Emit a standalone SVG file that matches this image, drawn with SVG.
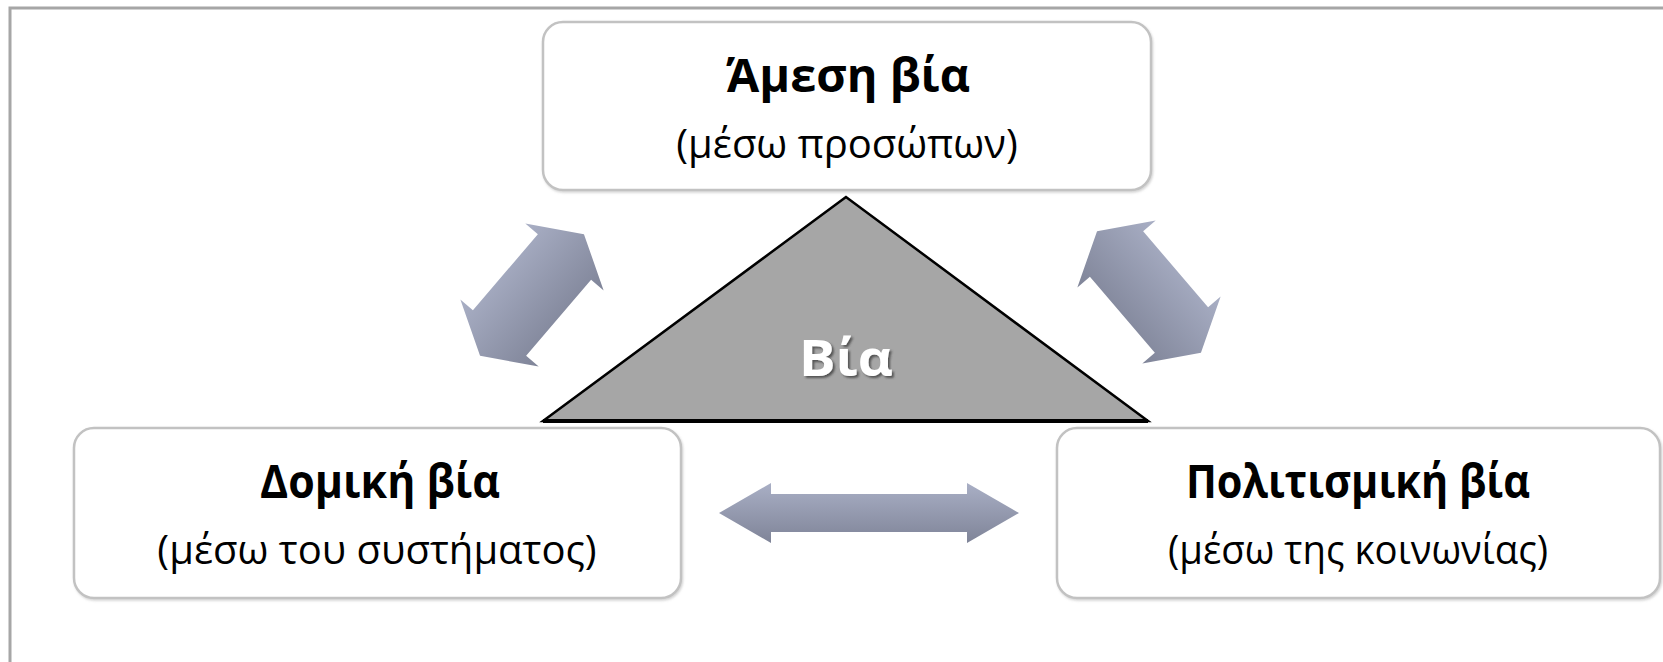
<svg xmlns="http://www.w3.org/2000/svg" width="1663" height="662" viewBox="0 0 1663 662">
  <defs>
    <linearGradient id="arrowGrad" x1="0" y1="0" x2="0" y2="1">
      <stop offset="0" stop-color="#a9afc5"/>
      <stop offset="1" stop-color="#7f8498"/>
    </linearGradient>
    <filter id="txtShadow" x="-20%" y="-20%" width="140%" height="140%">
      <feDropShadow dx="2" dy="2" stdDeviation="1" flood-color="#404040" flood-opacity="0.8"/>
    </filter>
    <filter id="boxShadow" x="-5%" y="-5%" width="110%" height="115%">
      <feDropShadow dx="1" dy="1.5" stdDeviation="1" flood-color="#808080" flood-opacity="0.35"/>
    </filter>
  </defs>
  <style>
    .box { fill: #ffffff; stroke: #c2c2c2; stroke-width: 2.5; filter: url(#boxShadow); }
    .title { font-family: "Open Sans", "Noto Sans", sans-serif; font-weight: bold; font-size: 46px; fill: #000000; text-anchor: middle; }
    .sub { font-family: "Open Sans", "Noto Sans", sans-serif; font-size: 40px; fill: #000000; text-anchor: middle; }
    .arrow { fill: url(#arrowGrad); }
    .center { font-family: "Open Sans", "Noto Sans", sans-serif; font-weight: bold; font-size: 50px; fill: #ffffff; text-anchor: middle; filter: url(#txtShadow); }
  </style>
  <rect x="0" y="0" width="1663" height="662" fill="#ffffff"/>
  <rect x="10" y="8" width="1700" height="700" fill="none" stroke="#a6a6a6" stroke-width="3"/>

  <g id="triangle">
    <polygon points="846,197 543,421 1148,421" fill="#a6a6a6" stroke="#000000" stroke-width="2.5" stroke-linejoin="miter"/>
    <line x1="543" y1="421" x2="1148" y2="421" stroke="#000000" stroke-width="4"/>
    <text class="center" x="846" y="376" textLength="94" lengthAdjust="spacingAndGlyphs">Βία</text>
  </g>

  <g id="node-direct">
    <rect class="box" x="543" y="22" width="608" height="168" rx="20" ry="20"/>
    <text class="title" x="848" y="92" textLength="244" lengthAdjust="spacingAndGlyphs">Άμεση βία</text>
    <text class="sub" x="847" y="158">(μέσω προσώπων)</text>
  </g>

  <g id="node-structural">
    <rect class="box" x="74" y="428" width="607" height="170" rx="20" ry="20"/>
    <text class="title" x="380" y="498" textLength="240" lengthAdjust="spacingAndGlyphs">Δομική βία</text>
    <text class="sub" x="377" y="564">(μέσω του συστήματος)</text>
  </g>

  <g id="node-cultural">
    <rect class="box" x="1057" y="428" width="603" height="170" rx="20" ry="20"/>
    <text class="title" x="1358" y="498" textLength="344" lengthAdjust="spacingAndGlyphs">Πολιτισμική βία</text>
    <text class="sub" x="1358" y="564" textLength="380" lengthAdjust="spacingAndGlyphs">(μέσω της κοινωνίας)</text>
  </g>

  <g id="connectors">
    <path class="arrow" transform="translate(532,295) rotate(-49.5)" d="M -80,0 L -50,-51.5 L -50,-35 L 50,-35 L 50,-51.5 L 80,0 L 50,51.5 L 50,35 L -50,35 L -50,51.5 Z"/>
    <path class="arrow" transform="translate(1149,292) rotate(49.5)" d="M -80,0 L -50,-51.5 L -50,-35 L 50,-35 L 50,-51.5 L 80,0 L 50,51.5 L 50,35 L -50,35 L -50,51.5 Z"/>
    <path class="arrow" d="M 719,513 L 771,483 L 771,494 L 967,494 L 967,483 L 1019,513 L 967,543 L 967,532 L 771,532 L 771,543 Z"/>
  </g>
</svg>
